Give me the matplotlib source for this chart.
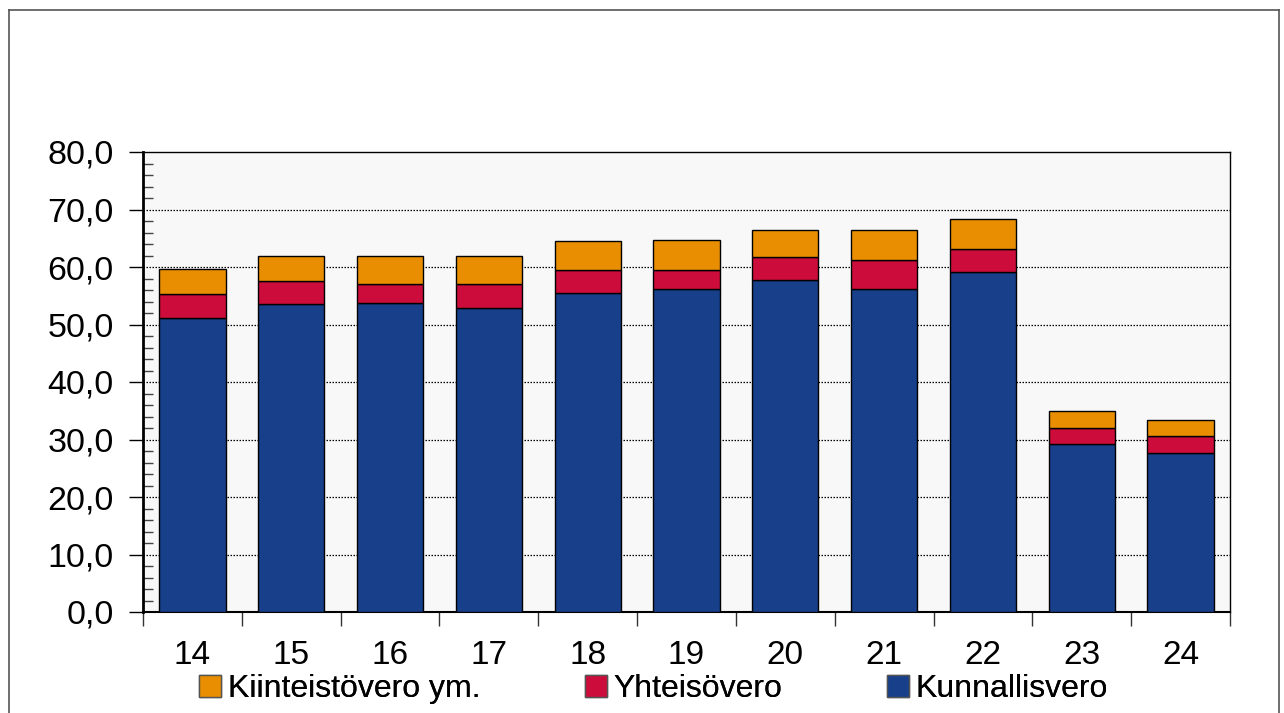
import matplotlib
matplotlib.use("Agg")
import matplotlib.pyplot as plt
import numpy as np
from matplotlib.patches import Patch
from matplotlib.lines import Line2D
from matplotlib.ticker import MultipleLocator, FixedLocator

plt.rcParams['font.family'] = ['Liberation Sans', 'DejaVu Sans']

years = ["14", "15", "16", "17", "18", "19", "20", "21", "22", "23", "24"]
kunnallisvero = [51.2, 53.6, 53.7, 52.8, 55.5, 56.1, 57.7, 56.1, 59.1, 29.2, 27.7]
yhteisovero = [4.1, 3.9, 3.3, 4.2, 3.9, 3.3, 4.0, 5.1, 4.0, 2.8, 2.9]
kiinteistovero = [4.4, 4.5, 4.9, 4.9, 5.2, 5.3, 4.8, 5.2, 5.2, 3.0, 2.8]
yticks = [0, 10, 20, 30, 40, 50, 60, 70, 80]
ytick_labels = ["0,0", "10,0", "20,0", "30,0", "40,0", "50,0", "60,0", "70,0", "80,0"]
legend_labels = ["Kiinteistövero ym.", "Yhteisövero", "Kunnallisvero"]

c_blue = "#173f8a"
c_red = "#cc0c3a"
c_orange = "#e88e00"

W, H = 1284, 713
fig = plt.figure(figsize=(W / 100, H / 100), dpi=100)
ax = fig.add_axes([143 / W, 1 - 612 / H, (1230 - 143) / W, (612 - 152) / H])
ax.set_facecolor("#f8f8f8")

x = np.arange(len(years))
bw = 0.67
b1 = np.array(kunnallisvero)
b2 = np.array(yhteisovero)
b3 = np.array(kiinteistovero)
ax.bar(x, b1, bw, color=c_blue, edgecolor="black", linewidth=1, zorder=3)
ax.bar(x, b2, bw, bottom=b1, color=c_red, edgecolor="black", linewidth=1, zorder=3)
ax.bar(x, b3, bw, bottom=b1 + b2, color=c_orange, edgecolor="black", linewidth=1, zorder=3)

ax.set_xlim(-0.5, len(years) - 0.5)
ax.set_ylim(0, 80)
ax.set_yticks(yticks)
ax.set_yticklabels(ytick_labels, fontsize=24.5)
ax.yaxis.set_minor_locator(MultipleLocator(2))
ax.tick_params(axis="y", which="major", direction="out", length=10, width=1, pad=11)
ax.tick_params(axis="y", which="minor", direction="in", length=7, width=1, color="#444444")

for yv in yticks[1:-1]:
    ax.axhline(yv, color="black", linewidth=0.9, linestyle=(0, (1.2, 1.2)), zorder=1)

ax.set_xticks(x)
ax.set_xticklabels(years, fontsize=24)
ax.xaxis.set_minor_locator(FixedLocator(np.arange(-0.5, len(years), 1.0)))
ax.tick_params(axis="x", which="major", length=0, pad=20)
ax.tick_params(axis="x", which="minor", direction="out", length=10, width=1, color="#333333")

ax.spines["left"].set_linewidth(2)
ax.spines["bottom"].set_linewidth(1.5)
ax.spines["top"].set_linewidth(1)
ax.spines["right"].set_linewidth(1)

colors = [c_orange, c_red, c_blue]
starts = [199, 585, 887]
for lab, col, sx in zip(legend_labels, colors, starts):
    leg = fig.legend([Patch(facecolor=col, edgecolor="#555555")], [lab],
                     loc="center left", bbox_to_anchor=(sx / W, 1 - 689 / H),
                     frameon=False, fontsize=23, handlelength=0.7, handleheight=0.7,
                     handletextpad=0.2, borderpad=0, borderaxespad=0)
    fig.add_artist(leg)

# outer border
fig.add_artist(Line2D([9 / W, 9 / W], [0, 1 - 10 / H], transform=fig.transFigure, color="#555555", lw=1.2))
fig.add_artist(Line2D([9 / W, 1279 / W], [1 - 10 / H, 1 - 10 / H], transform=fig.transFigure, color="#555555", lw=1.2))
fig.add_artist(Line2D([1279 / W, 1279 / W], [0, 1 - 10 / H], transform=fig.transFigure, color="#555555", lw=1.2))

fig.savefig("out.png", dpi=100)
